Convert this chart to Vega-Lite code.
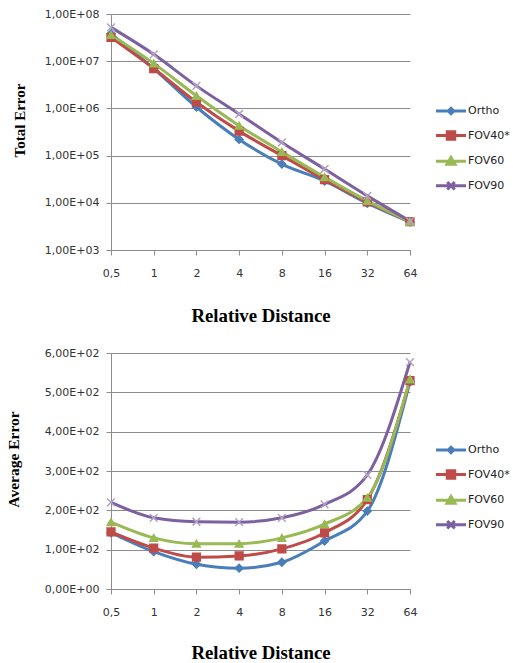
{
  "$schema": "https://vega.github.io/schema/vega-lite/v6.json",
  "padding": {"left": 6, "top": 8, "right": 0, "bottom": 0},
  "background": "white",
  "datasets": {
    "total": [
      {"dist": "0,5", "series": "Ortho", "value": 38000000},
      {"dist": "1", "series": "Ortho", "value": 7000000},
      {"dist": "2", "series": "Ortho", "value": 1070000},
      {"dist": "4", "series": "Ortho", "value": 220000},
      {"dist": "8", "series": "Ortho", "value": 66000},
      {"dist": "16", "series": "Ortho", "value": 29000},
      {"dist": "32", "series": "Ortho", "value": 9800},
      {"dist": "64", "series": "Ortho", "value": 3900},
      {"dist": "0,5", "series": "FOV40*", "value": 32000000},
      {"dist": "1", "series": "FOV40*", "value": 7000000},
      {"dist": "2", "series": "FOV40*", "value": 1350000},
      {"dist": "4", "series": "FOV40*", "value": 330000},
      {"dist": "8", "series": "FOV40*", "value": 100000},
      {"dist": "16", "series": "FOV40*", "value": 31000},
      {"dist": "32", "series": "FOV40*", "value": 10500},
      {"dist": "64", "series": "FOV40*", "value": 4000},
      {"dist": "0,5", "series": "FOV60", "value": 36000000},
      {"dist": "1", "series": "FOV60", "value": 9000000},
      {"dist": "2", "series": "FOV60", "value": 1850000},
      {"dist": "4", "series": "FOV60", "value": 430000},
      {"dist": "8", "series": "FOV60", "value": 120000},
      {"dist": "16", "series": "FOV60", "value": 35000},
      {"dist": "32", "series": "FOV60", "value": 11000},
      {"dist": "64", "series": "FOV60", "value": 4000},
      {"dist": "0,5", "series": "FOV90", "value": 52000000},
      {"dist": "1", "series": "FOV90", "value": 14000000},
      {"dist": "2", "series": "FOV90", "value": 3000000},
      {"dist": "4", "series": "FOV90", "value": 760000},
      {"dist": "8", "series": "FOV90", "value": 190000},
      {"dist": "16", "series": "FOV90", "value": 52000},
      {"dist": "32", "series": "FOV90", "value": 14000},
      {"dist": "64", "series": "FOV90", "value": 4100}
    ],
    "average": [
      {"dist": "0,5", "series": "Ortho", "value": 143},
      {"dist": "1", "series": "Ortho", "value": 95},
      {"dist": "2", "series": "Ortho", "value": 63},
      {"dist": "4", "series": "Ortho", "value": 53},
      {"dist": "8", "series": "Ortho", "value": 68},
      {"dist": "16", "series": "Ortho", "value": 122},
      {"dist": "32", "series": "Ortho", "value": 198},
      {"dist": "64", "series": "Ortho", "value": 527},
      {"dist": "0,5", "series": "FOV40*", "value": 145},
      {"dist": "1", "series": "FOV40*", "value": 104},
      {"dist": "2", "series": "FOV40*", "value": 81},
      {"dist": "4", "series": "FOV40*", "value": 84},
      {"dist": "8", "series": "FOV40*", "value": 102},
      {"dist": "16", "series": "FOV40*", "value": 143},
      {"dist": "32", "series": "FOV40*", "value": 227},
      {"dist": "64", "series": "FOV40*", "value": 530},
      {"dist": "0,5", "series": "FOV60", "value": 170},
      {"dist": "1", "series": "FOV60", "value": 130},
      {"dist": "2", "series": "FOV60", "value": 115},
      {"dist": "4", "series": "FOV60", "value": 115},
      {"dist": "8", "series": "FOV60", "value": 130},
      {"dist": "16", "series": "FOV60", "value": 165},
      {"dist": "32", "series": "FOV60", "value": 232},
      {"dist": "64", "series": "FOV60", "value": 533},
      {"dist": "0,5", "series": "FOV90", "value": 220},
      {"dist": "1", "series": "FOV90", "value": 181},
      {"dist": "2", "series": "FOV90", "value": 171},
      {"dist": "4", "series": "FOV90", "value": 170},
      {"dist": "8", "series": "FOV90", "value": 181},
      {"dist": "16", "series": "FOV90", "value": 215},
      {"dist": "32", "series": "FOV90", "value": 290},
      {"dist": "64", "series": "FOV90", "value": 577}
    ]
  },
  "config": {
    "view": {"stroke": null},
    "axis": {
      "labelFont": "DejaVu Sans",
      "labelFontSize": 11,
      "labelColor": "#333333",
      "domainColor": "#8c8c8c",
      "tickColor": "#8c8c8c",
      "gridColor": "#8c8c8c",
      "gridOpacity": 1,
      "titleFont": "Liberation Serif",
      "titleFontSize": 18.8,
      "titleFontWeight": "bold",
      "titleColor": "#000000"
    },
    "legend": {
      "labelFont": "DejaVu Sans",
      "labelFontSize": 11,
      "labelColor": "#222222"
    }
  },
  "resolve": {
    "scale": {"color": "independent"},
    "legend": {"color": "independent"}
  },
  "spacing": 22,
  "vconcat": [
    {
      "width": 299,
      "height": 236,
      "data": {"name": "total"},
      "encoding": {
        "x": {
          "field": "dist", "type": "ordinal",
          "sort": ["0,5", "1", "2", "4", "8", "16", "32", "64"],
          "scale": {"type": "point", "padding": 0},
          "title": "Relative Distance",
          "axis": {"labelAngle": 0, "tickSize": 5, "labelPadding": 12, "titlePadding": 28, "grid": false}
        },
        "y": {
          "field": "value", "type": "quantitative",
          "scale": {"type": "log", "domain": [1000, 100000000]},
          "title": "Total Error",
          "axis": {
            "values": [1000, 10000, 100000, 1000000, 10000000, 100000000],
            "labelExpr": "'1,00E+0' + round(log(datum.value)/LN10)",
            "grid": true, "tickSize": 5, "labelPadding": 7, "titlePadding": 17,
            "titleFontSize": 15, "titleY": 106
          }
        }
      },
      "layer": [
        {
          "mark": {"type": "line", "interpolate": "monotone", "strokeWidth": 3},
          "encoding": {
            "color": {
              "field": "series", "type": "nominal",
              "sort": ["Ortho", "FOV40*", "FOV60", "FOV90"],
              "scale": {"domain": ["Ortho", "FOV40*", "FOV60", "FOV90"], "range": ["#4A7EBB", "#BE4B48", "#98B954", "#7D60A0"]},
              "legend": {
                "title": null, "orient": "none", "legendX": 326, "legendY": 83,
                "padding": 0, "symbolSize": 625, "rowPadding": 1.6, "labelOffset": 3,
                "symbolStrokeWidth": 3,
                "encode": {
                  "symbols": {
                    "update": {
                      "shape": {"signal": "datum.value === 'Ortho' ? 'M-1.2,0H1.2M0,-0.22L0.22,0L0,0.22L-0.22,0Z' : datum.value === 'FOV40*' ? 'M-1.2,0H1.2M-0.3,-0.3H0.3V0.3H-0.3Z' : datum.value === 'FOV60' ? 'M-1.2,0H1.2M0,-0.3L0.32,0.24H-0.32Z' : 'M-1.2,0H1.2M-0.3,-0.3L0.3,0.3M-0.3,0.3L0.3,-0.3'"},
                      "fill": {"signal": "datum.value === 'Ortho' ? '#4A7EBB' : datum.value === 'FOV40*' ? '#BE4B48' : datum.value === 'FOV60' ? '#98B954' : '#7D60A0'"},
                      "stroke": {"signal": "datum.value === 'Ortho' ? '#4A7EBB' : datum.value === 'FOV40*' ? '#BE4B48' : datum.value === 'FOV60' ? '#98B954' : '#7D60A0'"},
                      "strokeWidth": {"value": 3},
                      "opacity": {"value": 1}
                    }
                  }
                }
              }
            }
          }
        },
        {
          "transform": [{"filter": {"field": "series", "equal": "Ortho"}}],
          "mark": {"type": "point", "shape": "diamond", "filled": true, "size": 60, "opacity": 1, "fill": "#4A7EBB", "stroke": "#4A7EBB", "strokeWidth": 1.5}
        },
        {
          "transform": [{"filter": {"field": "series", "equal": "FOV40*"}}],
          "mark": {"type": "point", "shape": "square", "filled": true, "size": 60, "opacity": 1, "fill": "#BE4B48", "stroke": "#BE4B48", "strokeWidth": 1.5}
        },
        {
          "transform": [{"filter": {"field": "series", "equal": "FOV60"}}],
          "mark": {"type": "point", "shape": "triangle-up", "filled": true, "size": 60, "opacity": 1, "fill": "#98B954", "stroke": "#98B954", "strokeWidth": 1.5}
        },
        {
          "transform": [{"filter": {"field": "series", "equal": "FOV90"}}],
          "mark": {"type": "point", "shape": "M-1,-1L1,1M-1,1L1,-1", "filled": false, "size": 60, "opacity": 1, "stroke": "#B3A2C7", "strokeWidth": 1.5}
        }
      ]
    },
    {
      "width": 299,
      "height": 236,
      "data": {"name": "average"},
      "encoding": {
        "x": {
          "field": "dist", "type": "ordinal",
          "sort": ["0,5", "1", "2", "4", "8", "16", "32", "64"],
          "scale": {"type": "point", "padding": 0},
          "title": "Relative Distance",
          "axis": {"labelAngle": 0, "tickSize": 5, "labelPadding": 12, "titlePadding": 26, "grid": false}
        },
        "y": {
          "field": "value", "type": "quantitative",
          "scale": {"domain": [0, 600]},
          "title": "Average Error",
          "axis": {
            "values": [0, 100, 200, 300, 400, 500, 600],
            "labelExpr": "datum.value === 0 ? '0,00E+00' : (datum.value/100) + ',00E+02'",
            "grid": true, "tickSize": 5, "labelPadding": 7, "titlePadding": 23,
            "titleFontSize": 15.5, "titleY": 106
          }
        }
      },
      "layer": [
        {
          "mark": {"type": "line", "interpolate": "monotone", "strokeWidth": 3},
          "encoding": {
            "color": {
              "field": "series", "type": "nominal",
              "sort": ["Ortho", "FOV40*", "FOV60", "FOV90"],
              "scale": {"domain": ["Ortho", "FOV40*", "FOV60", "FOV90"], "range": ["#4A7EBB", "#BE4B48", "#98B954", "#7D60A0"]},
              "legend": {
                "title": null, "orient": "none", "legendX": 326, "legendY": 83,
                "padding": 0, "symbolSize": 625, "rowPadding": 1.6, "labelOffset": 3,
                "symbolStrokeWidth": 3,
                "encode": {
                  "symbols": {
                    "update": {
                      "shape": {"signal": "datum.value === 'Ortho' ? 'M-1.2,0H1.2M0,-0.22L0.22,0L0,0.22L-0.22,0Z' : datum.value === 'FOV40*' ? 'M-1.2,0H1.2M-0.3,-0.3H0.3V0.3H-0.3Z' : datum.value === 'FOV60' ? 'M-1.2,0H1.2M0,-0.3L0.32,0.24H-0.32Z' : 'M-1.2,0H1.2M-0.3,-0.3L0.3,0.3M-0.3,0.3L0.3,-0.3'"},
                      "fill": {"signal": "datum.value === 'Ortho' ? '#4A7EBB' : datum.value === 'FOV40*' ? '#BE4B48' : datum.value === 'FOV60' ? '#98B954' : '#7D60A0'"},
                      "stroke": {"signal": "datum.value === 'Ortho' ? '#4A7EBB' : datum.value === 'FOV40*' ? '#BE4B48' : datum.value === 'FOV60' ? '#98B954' : '#7D60A0'"},
                      "strokeWidth": {"value": 3},
                      "opacity": {"value": 1}
                    }
                  }
                }
              }
            }
          }
        },
        {
          "transform": [{"filter": {"field": "series", "equal": "Ortho"}}],
          "mark": {"type": "point", "shape": "diamond", "filled": true, "size": 60, "opacity": 1, "fill": "#4A7EBB", "stroke": "#4A7EBB", "strokeWidth": 1.5}
        },
        {
          "transform": [{"filter": {"field": "series", "equal": "FOV40*"}}],
          "mark": {"type": "point", "shape": "square", "filled": true, "size": 60, "opacity": 1, "fill": "#BE4B48", "stroke": "#BE4B48", "strokeWidth": 1.5}
        },
        {
          "transform": [{"filter": {"field": "series", "equal": "FOV60"}}],
          "mark": {"type": "point", "shape": "triangle-up", "filled": true, "size": 60, "opacity": 1, "fill": "#98B954", "stroke": "#98B954", "strokeWidth": 1.5}
        },
        {
          "transform": [{"filter": {"field": "series", "equal": "FOV90"}}],
          "mark": {"type": "point", "shape": "M-1,-1L1,1M-1,1L1,-1", "filled": false, "size": 60, "opacity": 1, "stroke": "#B3A2C7", "strokeWidth": 1.5}
        }
      ]
    }
  ]
}
